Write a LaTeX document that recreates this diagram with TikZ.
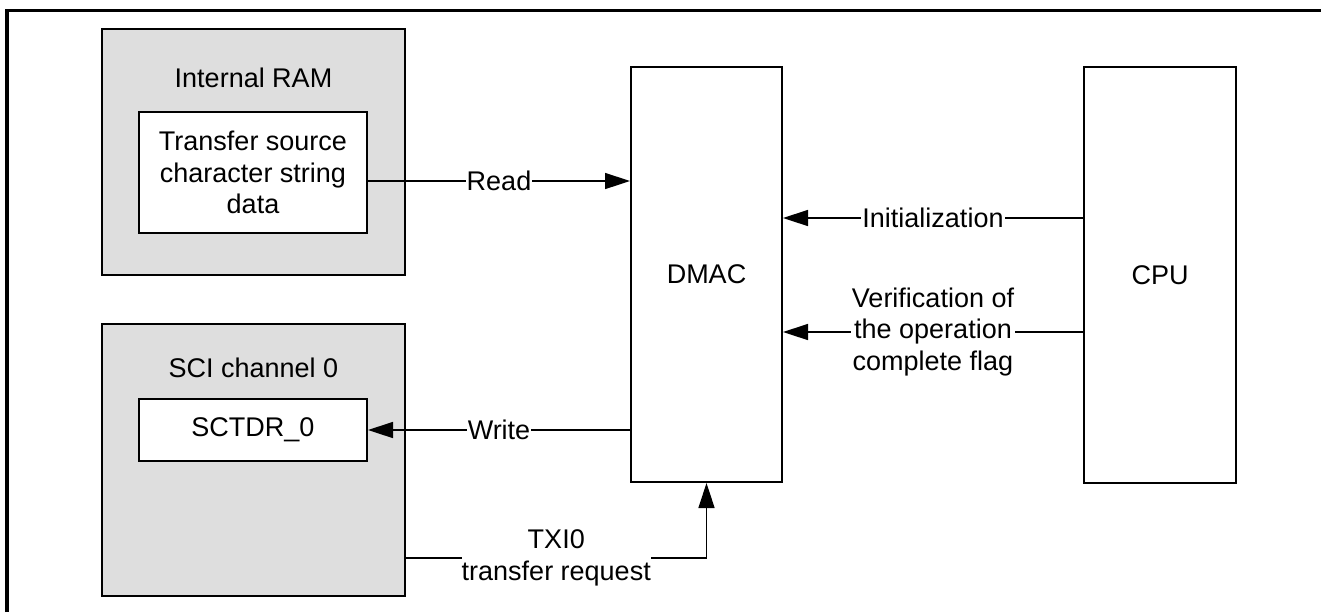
\documentclass[tikz,border=0pt]{standalone}
\usepackage{fontspec}
\setmainfont{Liberation Sans}
\usetikzlibrary{arrows.meta}
\usetikzlibrary{positioning}

\tikzset{
  block/.style={draw, line width=1pt, fill=white, align=center, inner sep=0pt},
  shaded/.style={block, fill=black!13},
  title/.style={inner sep=0pt},
  lbl/.style={fill=white, inner xsep=0.5pt, inner ysep=0pt, align=center},
}

\begin{document}
\begin{tikzpicture}[x=0.5pt, y=-0.5pt, on grid, line width=0.75pt,
    >={Triangle[length=12.5pt,width=8pt]},
    font=\fontsize{13.5}{15.75}\selectfont]
  \useasboundingbox (0,0) rectangle (1321,612);
  % outer frame
  \draw[line width=1.65pt] (7,612) -- (7,10.5) -- (1321,10.5);

  \node[shaded, minimum width=151.5pt, minimum height=123pt] (ram) at (253.5,152) {};
  \node[title, below=19.5pt of ram.north] (ramtitle) {Internal RAM};
  \node[block, minimum width=114pt, minimum height=60.5pt] (src) at (253,172.5) {Transfer source\\character string\\data};

  \node[shaded, minimum width=151.5pt, minimum height=136pt] (sci) at (253.5,460) {};
  \node[title, below=17pt of sci.north] (scititle) {SCI channel 0};
  \node[block, minimum width=114pt, minimum height=31pt] (sctdr) at (253,430) {SCTDR\_0};

  \node[block, minimum width=75.5pt, minimum height=207.5pt] (dmac) at (706.5,274.5) {DMAC};
  \node[block, minimum width=76pt, minimum height=208pt] (cpu) at (1160,275) {CPU};

  \coordinate (rd)  at ([yshift=-4.25pt]src.east);
  \coordinate (ini) at ([yshift=28.5pt]cpu.west);
  \coordinate (ver) at ([yshift=-28.5pt]cpu.west);
  \coordinate (txi) at ([yshift=-49pt]sci.east);

  \path[->]
    (rd)  edge node[lbl] {Read}           (rd -| dmac.west)
    (dmac.west |- sctdr.east) edge node[lbl] {Write} (sctdr.east)
    (ini) edge node[lbl] {Initialization} (ini -| dmac.east)
    (ver) edge node[lbl] {Verification of\\the operation\\complete flag} (ver -| dmac.east);
  \draw[->] (txi) -- node[lbl, inner xsep=0pt] {TXI0\\transfer request} (txi -| dmac.south) -- (dmac.south);
\end{tikzpicture}
\end{document}
